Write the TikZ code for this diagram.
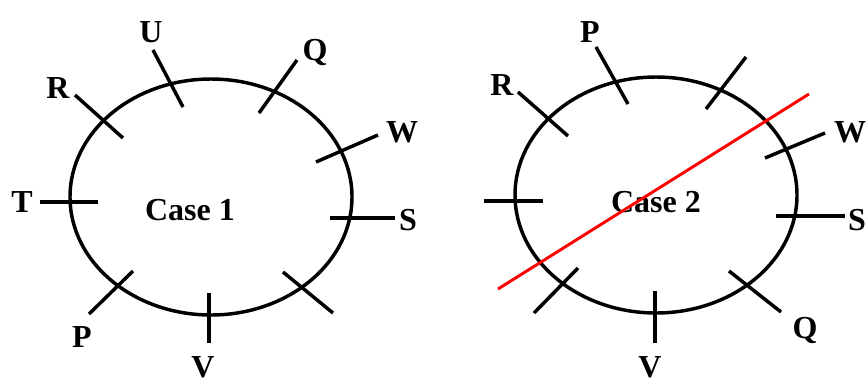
\documentclass[tikz,border=0pt]{standalone}
\usepackage{fontspec}
\setmainfont{Liberation Serif}
\usetikzlibrary{positioning}
\tikzset{
  ring/.style  = {draw=black, line width=2.6pt},
  spoke/.style = {draw=black, line width=2.6pt},
  chord/.style = {draw=red, line width=2.2pt},
  lbl/.style   = {font=\fontsize{24}{28}\selectfont\bfseries, inner sep=0pt},
}
\begin{document}
\begin{tikzpicture}[x=0.75pt, y=-0.75pt]
    \useasboundingbox (0,0) rectangle (866,383);

    % Case 1
    \draw[ring] (211,197) ellipse (141 and 118);
    \node[lbl] (case1) at (190,210) {Case 1};

    \draw[spoke] (153,50) -- (183,107);
    \draw[spoke] (297,60) -- (259,113);
    \draw[spoke] (75,95) -- (123,138);
    \draw[spoke] (378,135) -- (316,162);
    \draw[spoke] (40,202) -- (98,202);
    \draw[spoke] (330,218) -- (395,218);
    \draw[spoke] (283,272) -- (333,313);
    \draw[spoke] (209,293) -- (209,343);
    \draw[spoke] (133,271) -- (89,314);

    \node[lbl] (u1) at (151,32) {U};
    \node[lbl] (q1) at (315,52) {Q};
    \node[lbl] (r1) at (58,88) {R};
    \node[lbl] (w1) at (402,132) {W};
    \node[lbl] (t1) at (22,202) {T};
    \node[lbl] (s1) at (408,220) {S};
    \node[lbl] (p1) at (82,337) {P};
    \node[lbl] (v1) at (203,367) {V};

    % Case 2
    \draw[ring] (656,195) ellipse (141 and 118);
    \node[lbl] (case2) at (656,202) {Case 2};

    \draw[spoke] (596,47) -- (628,104);
    \draw[spoke] (746,57) -- (706,109);
    \draw[spoke] (518,92) -- (568,136);
    \draw[spoke] (825,133) -- (765,158);
    \draw[spoke] (484,201) -- (543,201);
    \draw[spoke] (776,216) -- (845,216);
    \draw[spoke] (729,271) -- (781,312);
    \draw[spoke] (655,291) -- (655,343);
    \draw[spoke] (578,268) -- (534,313);

    \node[lbl] (p2) at (590,32) {P};
    \node[lbl] (r2) at (502,85) {R};
    \node[lbl] (w2) at (850,132) {W};
    \node[lbl] (s2) at (857,220) {S};
    \node[lbl] (q2) at (805,330) {Q};
    \node[lbl] (v2) at (650,367) {V};

    \draw[chord] (498,289) -- (809,94);

\end{tikzpicture}
\end{document}
